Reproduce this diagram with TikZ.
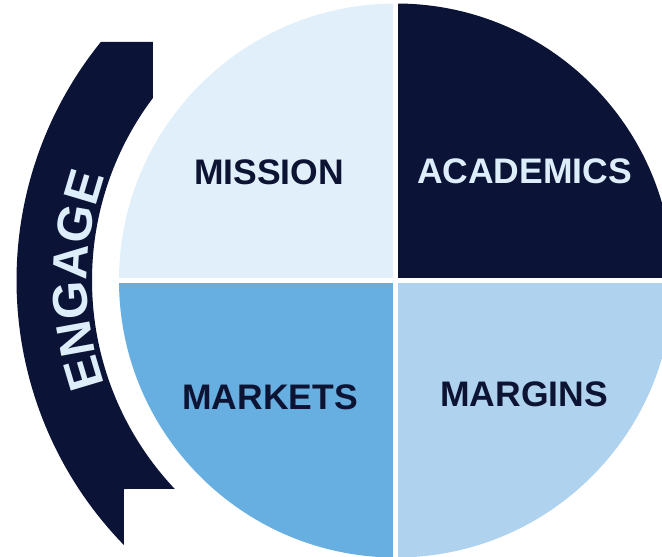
\documentclass[tikz,border=0pt]{standalone}
\usepackage{fontspec}
\setmainfont{Liberation Sans}
\usepackage{tikz}
\usetikzlibrary{decorations.text}

\definecolor{navy}{HTML}{0B1437}
\definecolor{missionblue}{HTML}{E0EFFA}
\definecolor{marketblue}{HTML}{66AFE0}
\definecolor{marginblue}{HTML}{AFD2EE}
\definecolor{darktext}{HTML}{0D1433}
\definecolor{lighttext}{HTML}{DDEEFA}

\newcommand{\labelfont}{\fontsize{35.5}{36}\selectfont\bfseries}
\newcommand{\engagefont}{\fontsize{49}{50}\selectfont\bfseries}

\begin{document}
\begin{tikzpicture}[x=1pt,y=1pt,
  quad/.style={font=\labelfont,inner sep=0pt,text=darktext}]
\useasboundingbox (-396,-276.5) rectangle (266,280.5);

% the four quarters
\begin{scope}
\clip (0,0) circle [radius=277pt];
\fill[missionblue] (-2.5,2.5) rectangle (-300,300);
\fill[navy] (2.5,2.5) rectangle (300,300);
\fill[marketblue] (-2.5,-2.5) rectangle (-300,-300);
\fill[marginblue] (2.5,-2.5) rectangle (300,-300);
\end{scope}

\node[quad] (mission) at (-127,108.5) {MISSION};
\node[quad,text=lighttext] (academics) at (128.5,109) {ACADEMICS};
\node[quad] (markets) at (-126,-117) {MARKETS};
\node[quad] (margins) at (128,-114) {MARGINS};

% engage band
\fill[navy] (141.04:379.5) -- (-243,238.5) -- (143.1:304)
  arc [start angle=143.1, end angle=223.3, radius=304pt] -- (-272,-208.5) -- (224.2:379.5)
  arc [start angle=224.2, end angle=141.04, radius=379.5pt] -- cycle;
\path[decorate,decoration={text along path,text align=center,text color=lighttext,
  text={|\engagefont|ENGAGE}}] (220:309) arc [start angle=220, end angle=140, radius=309pt];
\end{tikzpicture}
\end{document}
